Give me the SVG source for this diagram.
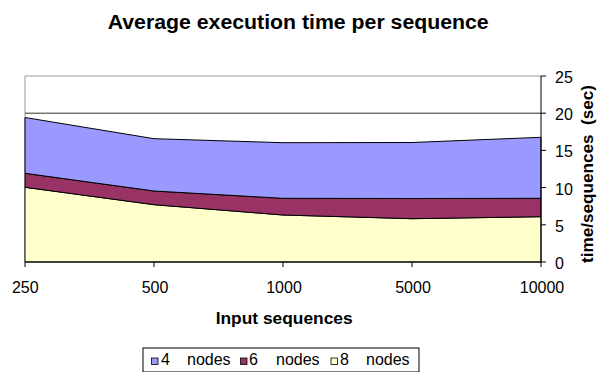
<svg xmlns="http://www.w3.org/2000/svg" width="598" height="372" viewBox="0 0 598 372">
<style>
text{font-family:"Liberation Sans",Arial,sans-serif;fill:#000}
.b{font-weight:bold}
.tick{font-size:16px}
.area{stroke:#000;stroke-width:1;stroke-linejoin:round}
.ax{stroke:#000;stroke-width:1;fill:none}
.leg{font-size:16px}
.sw{stroke:#000;stroke-width:0.8}
</style>
<rect width="598" height="372" fill="#fff"/>
<text class="b" x="107.7" y="29.3" font-size="20" textLength="381" lengthAdjust="spacingAndGlyphs">Average execution time per sequence</text>
<g id="plot">
<line x1="25" y1="76" x2="541" y2="76" stroke="#999" stroke-width="1"/>
<line x1="25" y1="76" x2="25" y2="262" stroke="#999" stroke-width="1"/>
<line x1="25" y1="113.2" x2="541" y2="113.2" stroke="#333" stroke-width="1"/>
</g>
<g id="series-8-nodes">
<path class="area" fill="#FFFFCC" d="M25,262 L25,187.3 L154,204.7 L283,215 L412,218.7 L541,216.7 L541,262 Z"/>
</g>
<g id="series-6-nodes">
<path class="area" fill="#993366" d="M25,187.3 L154,204.7 L283,215 L412,218.7 L541,216.7 L541,198.3 L412,198.5 L283,198.3 L154,191 L25,173.3 Z"/>
</g>
<g id="series-4-nodes">
<path class="area" fill="#9999FF" d="M25,173.3 L154,191 L283,198.3 L412,198.5 L541,198.3 L541,137.3 L412,142.5 L283,142.7 L154,138.7 L25,117.5 Z"/>
</g>
<g id="axes">
<path class="ax" d="M25,262 H541 M25,262 V267 M154,262 V267 M283,262 V267 M412,262 V267 M541,262 V267"/>
<path class="ax" d="M541,76 V262 M541,76 H546 M541,113.2 H546 M541,150.4 H546 M541,187.6 H546 M541,224.8 H546 M541,262 H546"/>
</g>
<g id="x-labels" class="tick" text-anchor="middle">
<text x="25.3" y="292.5">250</text>
<text x="155" y="292.5">500</text>
<text x="284" y="292.5">1000</text>
<text x="413" y="292.5">5000</text>
<text x="542" y="292.5">10000</text>
</g>
<g id="y-labels" class="tick">
<text x="555" y="83">25</text>
<text x="555" y="120.2">20</text>
<text x="555" y="157.4">15</text>
<text x="555" y="194.6">10</text>
<text x="555" y="231.8">5</text>
<text x="555" y="269">0</text>
</g>
<text class="b" x="215.7" y="324" font-size="16" textLength="137" lengthAdjust="spacingAndGlyphs">Input sequences</text>
<text class="b" transform="translate(593,174) rotate(-90)" text-anchor="middle" font-size="16" textLength="178" lengthAdjust="spacingAndGlyphs" xml:space="preserve">time/sequences  (sec)</text>
<g id="legend">
<rect x="143" y="348" width="276" height="24" fill="#fff" stroke="#000" stroke-width="1"/>
<rect class="sw" x="151.5" y="358" width="6.5" height="6.5" fill="#9999FF"/>
<text class="leg" x="161" y="364.5">4 <tspan x="187">nodes</tspan></text>
<rect class="sw" x="240.5" y="358" width="6.5" height="6.5" fill="#993366"/>
<text class="leg" x="249" y="364.5">6 <tspan x="276">nodes</tspan></text>
<rect class="sw" x="331" y="358" width="6.5" height="6.5" fill="#FFFFCC"/>
<text class="leg" x="340" y="364.5">8 <tspan x="366">nodes</tspan></text>
</g>
</svg>
